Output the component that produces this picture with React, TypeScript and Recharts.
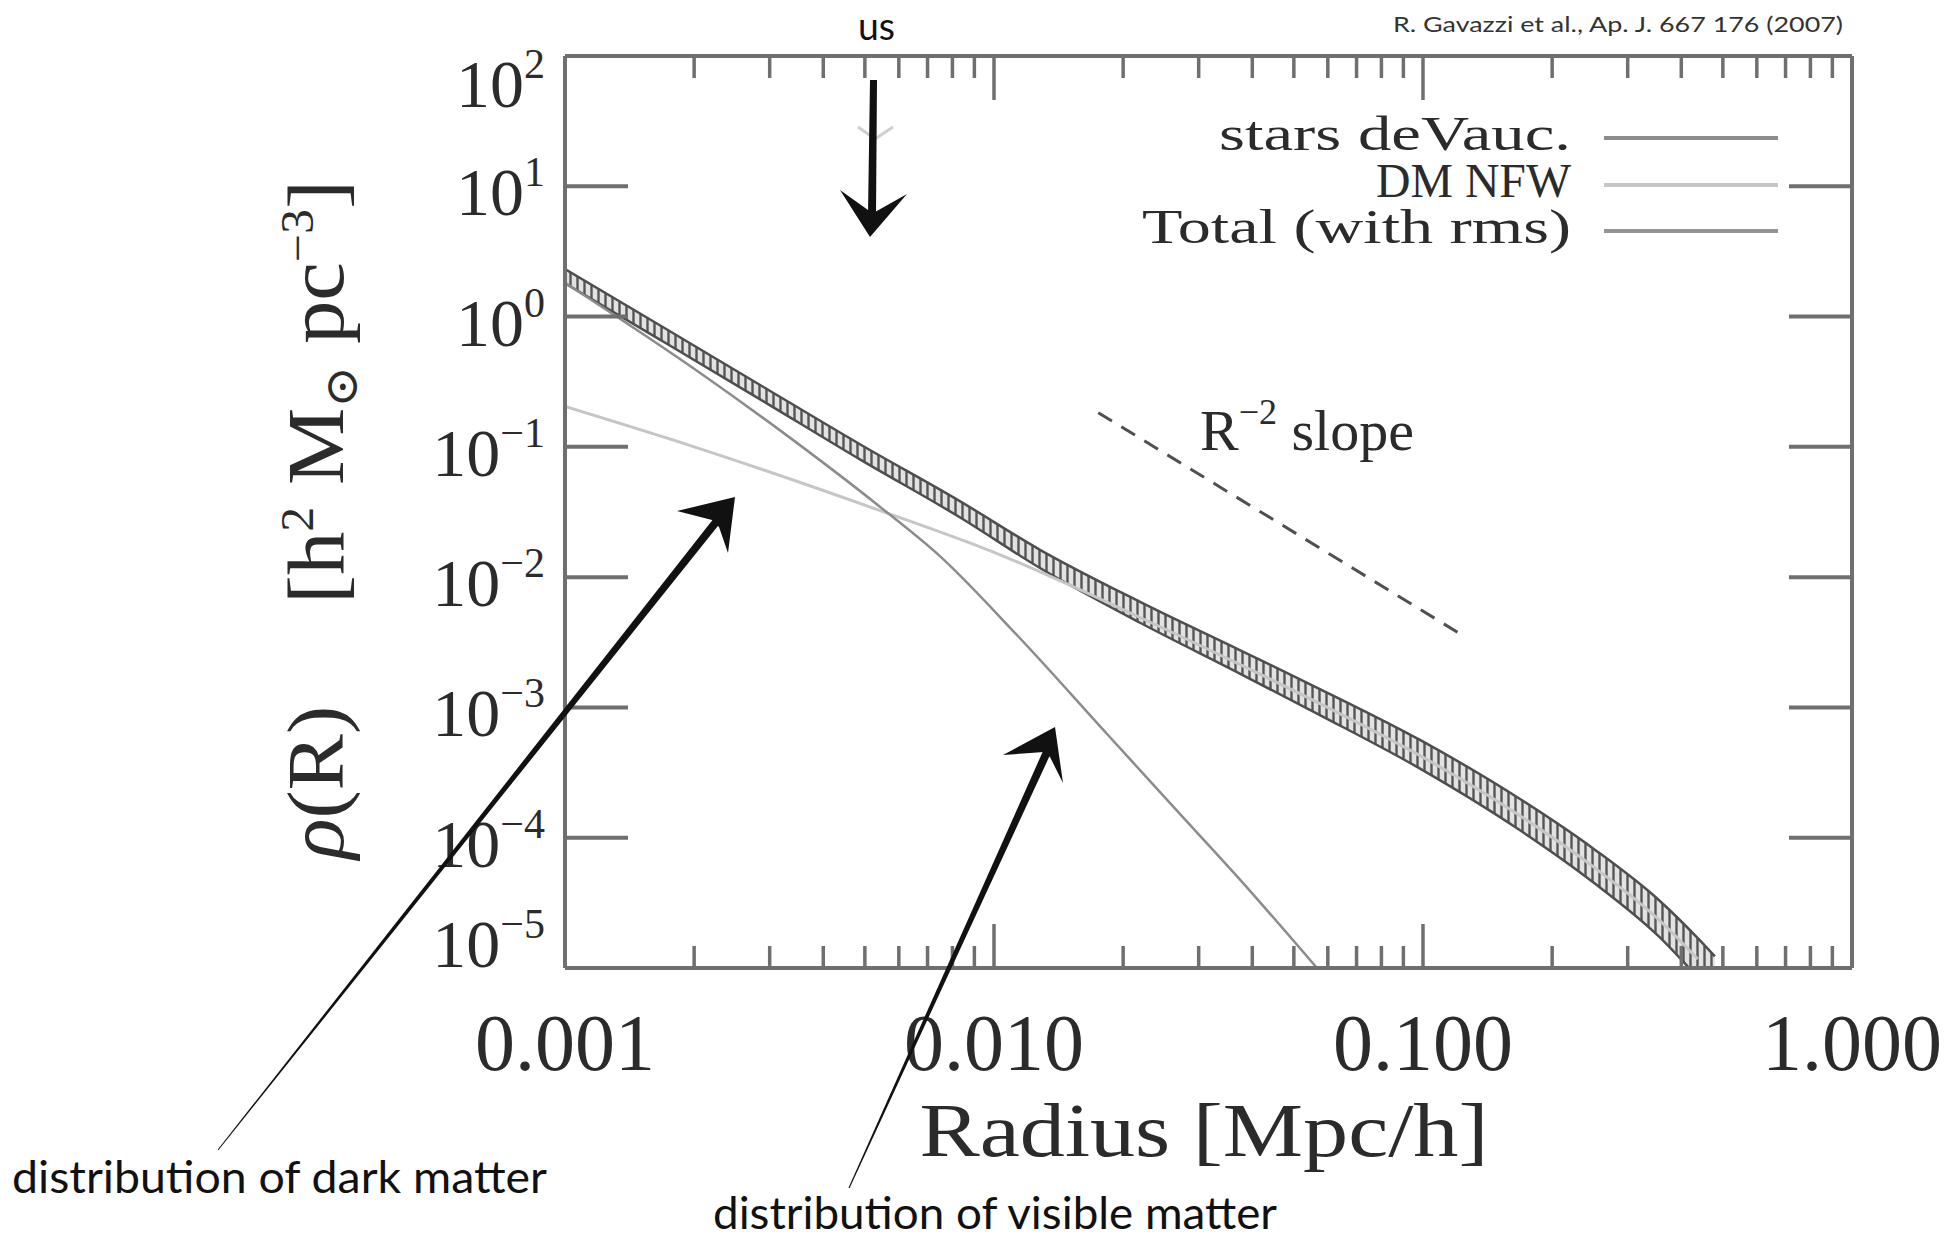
import React from 'react';
import { ComposedChart, Line, Area, XAxis, YAxis } from 'recharts';

// ── data (R in Mpc/h, rho in h^2 Msun pc^-3) ──
const X_MAJOR = [0.001, 0.01, 0.1, 1];
const X_MINOR = [
  0.002, 0.003, 0.004, 0.005, 0.006, 0.007, 0.008, 0.009,
  0.02, 0.03, 0.04, 0.05, 0.06, 0.07, 0.08, 0.09,
  0.2, 0.3, 0.4, 0.5, 0.6, 0.7, 0.8, 0.9,
];
const Y_TICKS = [1e-5, 1e-4, 1e-3, 1e-2, 1e-1, 1, 10, 100];

const STARS_R   = [0.001, 0.002, 0.00316, 0.00542, 0.00748, 0.0112, 0.0183, 0.0263, 0.0374, 0.0566];
const STARS_RHO = [1.82, 0.398, 0.135, 0.0347, 0.0145, 0.00372, 0.000631, 0.00017, 0.0000479, 0.00001];

const DM_R   = [0.001, 0.002, 0.00533, 0.01, 0.0219, 0.0374, 0.0575, 0.0984, 0.168, 0.251, 0.355, 0.437];
const DM_RHO = [0.204, 0.1, 0.0331, 0.0155, 0.0049, 0.00214, 0.00107, 0.000427, 0.000148, 0.0000589, 0.0000234, 0.0000117];

const TOTAL_R   = [0.001, 0.00166, 0.00285, 0.00488, 0.00834, 0.0128, 0.0219, 0.0374, 0.0575, 0.0984, 0.168, 0.251, 0.355, 0.437, 0.479];
const TOTAL_RHO = [2.04, 0.759, 0.263, 0.0912, 0.0331, 0.0138, 0.00537, 0.00224, 0.0011, 0.000437, 0.000151, 0.0000603, 0.000024, 0.000012, 0.0000087];
// half width of the rms band, in dex
const TOTAL_RMS = [0.055, 0.055, 0.055, 0.058, 0.062, 0.07, 0.08, 0.09, 0.1, 0.11, 0.12, 0.13, 0.14, 0.15, 0.15];

const SLOPE_R   = [0.0175, 0.125];
const SLOPE_RHO = [0.183, 0.0035];

const starsData = STARS_R.map((r, i) => ({ r, rho: STARS_RHO[i] }));
const dmData = DM_R.map((r, i) => ({ r, rho: DM_RHO[i] }));
const totalData = TOTAL_R.map((r, i) => ({
  r,
  band: [TOTAL_RHO[i] / Math.pow(10, TOTAL_RMS[i]), TOTAL_RHO[i] * Math.pow(10, TOTAL_RMS[i])],
}));
const slopeData = SLOPE_R.map((r, i) => ({ r, rho: SLOPE_RHO[i] }));

// ── styles ──
const FRAME = '#6f6f6f';
const INK = '#2b2b2b';
const SERIF = '"Liberation Serif", "DejaVu Serif", serif';
const SANS = 'Lato, "Noto Sans", sans-serif';
const STARS_COLOR = '#8c8c8c';
const DM_COLOR = '#c6c6c6';
const TOTAL_COLOR = '#4e4e4e';

const isMajor = (v: number) => X_MAJOR.some(m => Math.abs(m - v) < 1e-9);
const X_TICKS = [...X_MAJOR, ...X_MINOR].sort((a, b) => a - b);

// ── ticks (drawn inward, like the original) ──
function BottomTick({ x, y, payload }: any) {
  const major = isMajor(payload.value);
  return (
    <g>
      <line x1={x} y1={y} x2={x} y2={y - (major ? 44 : 22)} stroke={FRAME} strokeWidth={3.5} />
      {major && (
        <text x={x} y={y + 102} textAnchor="middle" fontFamily={SERIF} fontSize={80} fill={INK}>
          {payload.value.toFixed(3)}
        </text>
      )}
    </g>
  );
}

function TopTick({ x, y, payload }: any) {
  const major = isMajor(payload.value);
  return <line x1={x} y1={y} x2={x} y2={y + (major ? 44 : 22)} stroke={FRAME} strokeWidth={3.5} />;
}

function LeftTick({ x, y, payload }: any) {
  const exp = Math.round(Math.log10(payload.value));
  const nudge = exp === 2 ? 22 : exp === -5 ? -30 : 0;
  return (
    <g>
      <line x1={x} y1={y} x2={x + 63} y2={y} stroke={FRAME} strokeWidth={4} />
      <text x={x - 20} y={y + 29 + nudge} textAnchor="end" fontFamily={SERIF} fontSize={68} fill={INK}>
        10<tspan dy={-29} fontSize={42}>{exp < 0 ? `\u2212${-exp}` : `${exp}`}</tspan>
      </text>
    </g>
  );
}

function RightTick({ x, y }: any) {
  return <line x1={x} y1={y} x2={x - 63} y2={y} stroke={FRAME} strokeWidth={4} />;
}

// ── legend ──
const LEGEND = [
  { name: 'stars deVauc.', color: STARS_COLOR, len: 352, y: 150, ly: 138 },
  { name: 'DM NFW', color: DM_COLOR, len: 195, y: 197, ly: 185 },
  { name: 'Total (with rms)', color: '#949494', len: 429, y: 243, ly: 231 },
];

function Overlay() {
  return (
    <svg width={1950} height={1240} style={{ position: 'absolute', left: 0, top: 0, pointerEvents: 'none' }}>
      {/* source + legend */}
      <text x={1393} y={32} fontFamily={SANS} fontSize={22} fill="#333" textLength={450} lengthAdjust="spacingAndGlyphs">
        R. Gavazzi et al., Ap. J. 667 176 (2007)
      </text>
      {LEGEND.map(l => (
        <g key={l.name}>
          <text x={1571} y={l.y} textAnchor="end" fontFamily={SERIF} fontSize={48} fill={INK}
            textLength={l.len} lengthAdjust="spacingAndGlyphs">{l.name}</text>
          <line x1={1604} y1={l.ly} x2={1778} y2={l.ly} stroke={l.color} strokeWidth={4} />
        </g>
      ))}
      <text x={1200} y={450} fontFamily={SERIF} fontSize={58} fill={INK}>
        R<tspan dy={-26} fontSize={36}>{'\u22122'}</tspan><tspan dy={26}>{'\u00A0slope'}</tspan>
      </text>

      {/* axis titles */}
      <text x={343} y={859} transform="rotate(-90 343 859)" fontFamily={SERIF} fontSize={80} fill={INK}
        textLength={153} lengthAdjust="spacingAndGlyphs"><tspan fontStyle="italic">ρ</tspan>(R)</text>
      <text x={343} y={604} transform="rotate(-90 343 604)" fontFamily={SERIF} fontSize={80} fill={INK}
        textLength={424} lengthAdjust="spacingAndGlyphs">
        [h<tspan dy={-30} fontSize={46}>2</tspan><tspan dy={30}>{'\u00A0M'}</tspan>
        <tspan dy={14} fontSize={46}>⊙</tspan><tspan dy={-14}>{'\u00A0pc'}</tspan>
        <tspan dy={-30} fontSize={46}>{'\u22123'}</tspan><tspan dy={30}>]</tspan>
      </text>
      <text x={1204} y={1156} textAnchor="middle" fontFamily={SERIF} fontSize={76} fill={INK}
        textLength={569} lengthAdjust="spacingAndGlyphs">Radius [Mpc/h]</text>

      {/* hand drawn notes */}
      <text x={858} y={40} fontFamily={SANS} fontSize={38} fill="#111" textLength={37} lengthAdjust="spacingAndGlyphs">us</text>
      <polyline points="858,127 875,139 893,127" fill="none" stroke="#cfcfcf" strokeWidth={3} />
      <polygon points="870,80 877,80 876,214 868,214" fill="#111" />
      <polygon points="840,190 870,237 907,194 875,212 868,210" fill="#111" />

      <polygon points="218.4,1150.3 719.1,524.5 712.9,519.5 217.6,1149.7" fill="#111" />
      <polygon points="677,511 735,497 728,553 719,527 712,520" fill="#111" />

      <polygon points="849.5,1188.2 1050.7,753.6 1043.3,750.4 848.5,1187.8" fill="#111" />
      <polygon points="1003,755 1055,727 1063,783 1050,757 1044,752" fill="#111" />

      <text x={12} y={1193} fontFamily={SANS} fontSize={45} fill="#111" textLength={535} lengthAdjust="spacingAndGlyphs">
        distribution of dark matter
      </text>
      <text x={713} y={1229} fontFamily={SANS} fontSize={44} fill="#111" textLength={564} lengthAdjust="spacingAndGlyphs">
        distribution of visible matter
      </text>
    </svg>
  );
}

export default function App() {
  return (
    <div style={{ position: 'absolute', left: 0, top: 0, width: 1950, height: 1240, background: '#fff' }}>
      <svg width={0} height={0} style={{ position: 'absolute' }}>
        <defs>
          <pattern id="rmsHatch" patternUnits="userSpaceOnUse" width={7} height={7}>
            <rect width={7} height={7} fill="#e2e2e2" />
            <line x1={3.5} y1={0} x2={3.5} y2={7} stroke="#555" strokeWidth={2.4} />
          </pattern>
        </defs>
      </svg>
      <ComposedChart width={1950} height={1240} margin={{ top: 36, right: 78, bottom: 212, left: 505 }}>
        <XAxis xAxisId="bottom" orientation="bottom" type="number" dataKey="r" scale="log" domain={[0.001, 1]}
          allowDataOverflow ticks={X_TICKS} interval={0} tickSize={0} tickMargin={0} tickLine={false} height={60}
          axisLine={{ stroke: FRAME, strokeWidth: 4 }} tick={(p: any) => <BottomTick {...p} />} />
        <XAxis xAxisId="top" orientation="top" type="number" dataKey="r" scale="log" domain={[0.001, 1]}
          allowDataOverflow ticks={X_TICKS} interval={0} tickSize={0} tickMargin={0} tickLine={false} height={20}
          axisLine={{ stroke: FRAME, strokeWidth: 4 }} tick={(p: any) => <TopTick {...p} />} />
        <YAxis yAxisId="left" orientation="left" type="number" scale="log" domain={[1e-5, 100]}
          allowDataOverflow ticks={Y_TICKS} interval={0} tickSize={0} tickMargin={0} tickLine={false} width={60}
          axisLine={{ stroke: FRAME, strokeWidth: 4 }} tick={(p: any) => <LeftTick {...p} />} />
        <YAxis yAxisId="right" orientation="right" type="number" scale="log" domain={[1e-5, 100]}
          allowDataOverflow ticks={Y_TICKS} interval={0} tickSize={0} tickMargin={0} tickLine={false} width={20}
          axisLine={{ stroke: FRAME, strokeWidth: 4 }} tick={(p: any) => <RightTick {...p} />} />

        <Line xAxisId="bottom" yAxisId="left" data={dmData} dataKey="rho" type="monotone" stroke={DM_COLOR}
          strokeWidth={3} dot={false} activeDot={false} isAnimationActive={false} />
        <Line xAxisId="bottom" yAxisId="left" data={starsData} dataKey="rho" type="monotone" stroke={STARS_COLOR}
          strokeWidth={2.5} dot={false} activeDot={false} isAnimationActive={false} />
        <Area xAxisId="bottom" yAxisId="left" data={totalData} dataKey="band" type="monotone"
          fill="url(#rmsHatch)" fillOpacity={1} stroke={TOTAL_COLOR} strokeWidth={2.5}
          dot={false} activeDot={false} isAnimationActive={false} />
        <Line xAxisId="bottom" yAxisId="left" data={slopeData} dataKey="rho" type="linear" stroke="#505050"
          strokeWidth={3} strokeDasharray="16 11" dot={false} activeDot={false} isAnimationActive={false} />
      </ComposedChart>
      <Overlay />
    </div>
  );
}
